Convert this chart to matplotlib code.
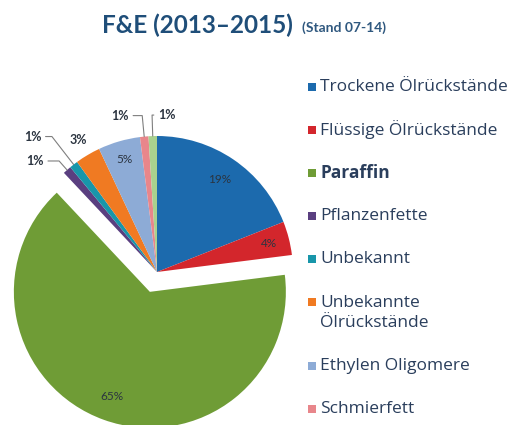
import matplotlib
matplotlib.use("Agg")
import matplotlib.pyplot as plt
import numpy as np
from matplotlib.patches import Rectangle

# data
categories = ["Trockene Ölrückstände", "Flüssige Ölrückstände", "Paraffin",
              "Pflanzenfette", "Unbekannt", "Unbekannte\nÖlrückstände",
              "Ethylen Oligomere", "Schmierfett", "Sonstige"]
shares = [19, 4, 65, 1, 1, 3, 5, 1, 1]
colors = ["#1c6aad", "#d3262c", "#6f9c36", "#5a3f80", "#1896aa",
          "#f07a22", "#8dabd6", "#e8868b", "#a9d18e"]
in_legend = [True, True, True, True, True, True, True, True, False]
bold_legend = [False, False, True, False, False, False, False, False, False]

# label styling per slice: ('in', radius) or ('out', radius) or ('lead', dx_px, dy_px)
label_style = [("in", 0.82), ("in", 0.85), ("in", 0.82), ("lead", -32, 9),
               ("lead", -41, 28), ("out", 1.13), ("in", 0.86),
               ("lead", -24, 21), ("lead", 14, 21)]
explode = [0, 0, 0.155, 0, 0, 0, 0, 0, 0]

W, H = 515, 425
R = 136.0           # pie radius in px
CX, CY = 157, 272   # pie centre in image px

fig = plt.figure(figsize=(W / 100, H / 100), dpi=100)
fig.patch.set_facecolor("white")

ax = fig.add_axes([0, 0, 300 / W, 365 / H])
wedges, _ = ax.pie(shares, colors=colors, startangle=90, counterclock=False,
                   explode=explode, radius=1,
                   wedgeprops=dict(linewidth=0))
ax.set_xlim(-CX / R, (300 - CX) / R)
ax.set_ylim(-(H - CY) / R, (CY - 60) / R)
ax.axis("off")
for w in wedges:
    w.set_clip_on(False)

lab_kw = dict(color="#2b3440", family="Lato", ha="center", va="center")
for w, v, st in zip(wedges, shares, label_style):
    mid = np.deg2rad((w.theta1 + w.theta2) / 2)
    cx, cy = w.center
    txt = f"{v}%"
    if st[0] == "in":
        r = st[1]
        ax.text(cx + r * np.cos(mid), cy + r * np.sin(mid), txt,
                fontsize=8.5, **lab_kw)
    elif st[0] == "out":
        r = st[1]
        ax.text(cx + r * np.cos(mid), cy + r * np.sin(mid), txt,
                fontsize=9, fontweight="bold", **lab_kw)
    else:
        px, py = cx + np.cos(mid), cy + np.sin(mid)
        ax.annotate(txt, xy=(px, py), xytext=(st[1], st[2]),
                    textcoords="offset pixels", fontweight="bold", fontsize=9,
                    annotation_clip=False,
                    arrowprops=dict(arrowstyle="-", color="#7f7f7f", lw=0.8,
                                    shrinkA=1, shrinkB=0,
                                    connectionstyle=f"angle,angleA=0,angleB={np.rad2deg(mid):.1f},rad=0"),
                    **lab_kw)

# title
fig.text(102 / W, 1 - 25 / H, "F&E (2013\u20132015)", fontsize=17.5, fontweight="bold",
         family="Lato", color="#1f4e79", ha="left", va="center")
fig.text(302 / W, 1 - 28 / H, "(Stand 07-14)", fontsize=10, fontweight="bold",
         family="Lato", color="#2f587f", ha="left", va="center")

# legend drawn by hand to follow the reference layout
leg_kw = dict(fontsize=12.5, family="Open Sans", color="#2a3e5c", ha="left")
y = 87
for name, c, show, b in zip(categories, colors, in_legend, bold_legend):
    if not show:
        continue
    fig.patches.append(Rectangle((308 / W, 1 - (y + 4) / H), 8 / W, 8 / H,
                                 transform=fig.transFigure, facecolor=c,
                                 edgecolor="none"))
    if "\n" in name:
        fig.text(320 / W, 1 - (y - 7) / H, name, va="top", linespacing=1.3,
                 **leg_kw)
        y += 21
    else:
        fig.text(320 / W, 1 - y / H, name, va="center",
                 fontweight="bold" if b else "normal", **leg_kw)
    y += 43

fig.savefig("out.png", dpi=100, facecolor="white")
